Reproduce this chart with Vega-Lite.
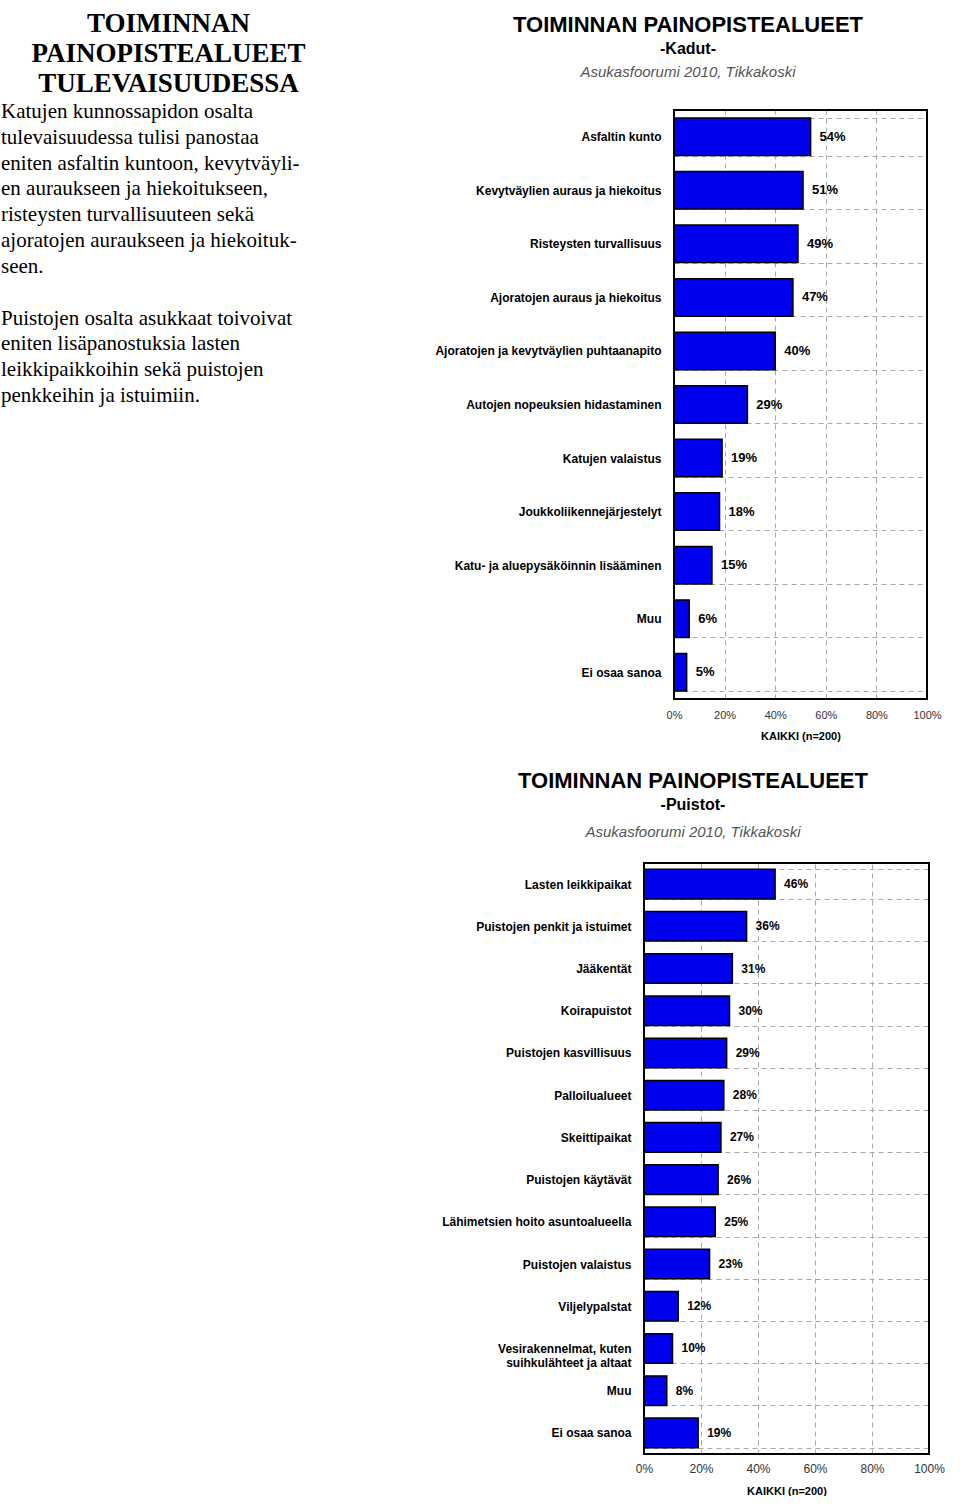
{
  "$schema": "https://vega.github.io/schema/vega-lite/v6.json",
  "padding": {"left": 1, "top": 9, "right": 0, "bottom": 0},
  "background": "white",
  "config": {
    "font": "Liberation Sans"
  },
  "datasets": {
    "teksti": [
      {"r": 1, "t": "Katujen kunnossapidon osalta"},
      {"r": 2, "t": "tulevaisuudessa tulisi panostaa"},
      {"r": 3, "t": "eniten asfaltin kuntoon, kevytväyli-"},
      {"r": 4, "t": "en auraukseen ja hiekoitukseen,"},
      {"r": 5, "t": "risteysten turvallisuuteen sekä"},
      {"r": 6, "t": "ajoratojen auraukseen ja hiekoituk-"},
      {"r": 7, "t": "seen."},
      {"r": 9, "t": "Puistojen osalta asukkaat toivoivat"},
      {"r": 10, "t": "eniten lisäpanostuksia lasten"},
      {"r": 11, "t": "leikkipaikkoihin sekä puistojen"},
      {"r": 12, "t": "penkkeihin ja istuimiin."}
    ],
    "kadut": [
      {"k": "Asfaltin kunto", "v": 0.54},
      {"k": "Kevytväylien auraus ja hiekoitus", "v": 0.51},
      {"k": "Risteysten turvallisuus", "v": 0.49},
      {"k": "Ajoratojen auraus ja hiekoitus", "v": 0.47},
      {"k": "Ajoratojen ja kevytväylien puhtaanapito", "v": 0.40},
      {"k": "Autojen nopeuksien hidastaminen", "v": 0.29},
      {"k": "Katujen valaistus", "v": 0.19},
      {"k": "Joukkoliikennejärjestelyt", "v": 0.18},
      {"k": "Katu- ja aluepysäköinnin lisääminen", "v": 0.15},
      {"k": "Muu", "v": 0.06},
      {"k": "Ei osaa sanoa", "v": 0.05}
    ],
    "puistot": [
      {"k": "Lasten leikkipaikat", "v": 0.46},
      {"k": "Puistojen penkit ja istuimet", "v": 0.36},
      {"k": "Jääkentät", "v": 0.31},
      {"k": "Koirapuistot", "v": 0.30},
      {"k": "Puistojen kasvillisuus", "v": 0.29},
      {"k": "Palloilualueet", "v": 0.28},
      {"k": "Skeittipaikat", "v": 0.27},
      {"k": "Puistojen käytävät", "v": 0.26},
      {"k": "Lähimetsien hoito asuntoalueella", "v": 0.25},
      {"k": "Puistojen valaistus", "v": 0.23},
      {"k": "Viljelypalstat", "v": 0.12},
      {"k": "Vesirakennelmat, kuten|suihkulähteet ja altaat", "v": 0.10},
      {"k": "Muu", "v": 0.08},
      {"k": "Ei osaa sanoa", "v": 0.19}
    ]
  },
  "spacing": 29,
  "vconcat": [
    {
      "spacing": 98,
      "hconcat": [
        {
          "title": {
            "text": ["TOIMINNAN", "PAINOPISTEALUEET", "TULEVAISUUDESSA"],
            "font": "Liberation Serif",
            "fontSize": 27,
            "fontWeight": "bold",
            "lineHeight": 30,
            "color": "black",
            "anchor": "middle",
            "frame": "group",
            "offset": 3
          },
          "width": 335,
          "height": 310,
          "view": {"stroke": null},
          "data": {"name": "teksti"},
          "mark": {"type": "text", "align": "left", "baseline": "middle", "dy": -11, "font": "Liberation Serif", "fontSize": 21, "color": "black"},
          "encoding": {
            "x": {"value": 0},
            "y": {"field": "r", "type": "ordinal", "scale": {"domain": [1, 2, 3, 4, 5, 6, 7, 8, 9, 10, 11, 12], "paddingInner": 0, "paddingOuter": 0}, "axis": null},
            "text": {"field": "t"}
          }
        },
        {
          "title": {
            "text": "TOIMINNAN PAINOPISTEALUEET",
            "subtitle": "-Kadut-",
            "fontSize": 22,
            "fontWeight": "bold",
            "color": "black",
            "subtitleFontSize": 16,
            "subtitleFontWeight": "bold",
            "subtitleColor": "black",
            "subtitlePadding": 4,
            "anchor": "middle",
            "offset": 7
          },
          "vconcat": [
            {
              "title": {"text": "Asukasfoorumi 2010, Tikkakoski", "fontSize": 15, "fontStyle": "italic", "fontWeight": "normal", "color": "#555555", "anchor": "middle", "frame": "bounds", "offset": 24},
              "width": 253,
              "height": 589,
              "view": {"stroke": null},
              "data": {"name": "kadut"},
              "encoding": {
                "y": {
                  "field": "k", "type": "nominal", "sort": null,
                  "scale": {"paddingInner": 0.3, "paddingOuter": 0.15},
                  "axis": {"title": null, "ticks": false, "domain": false, "grid": true, "tickBand": "extent", "gridDash": [5, 4], "gridColor": "#a8a8a8", "labelFontSize": 12, "labelFontWeight": "bold", "labelColor": "black", "labelPadding": 13, "labelLimit": 400}
                },
                "x": {
                  "field": "v", "type": "quantitative",
                  "scale": {"domain": [0, 1], "nice": false},
                  "axis": {"format": ".0%", "values": [0, 0.2, 0.4, 0.6, 0.8, 1], "title": "KAIKKI (n=200)", "grid": true, "gridDash": [5, 4], "gridColor": "#a8a8a8", "ticks": false, "domain": false, "labelFlush": false, "labelOverlap": false, "labelFontSize": 11, "labelColor": "#333333", "labelPadding": 10, "titleFontSize": 11, "titleFontWeight": "bold", "titleColor": "black", "titlePadding": 10}
                }
              },
              "layer": [
                {"mark": {"type": "bar", "color": "#0000f0", "stroke": "black", "strokeWidth": 1.5}},
                {"mark": {"type": "text", "align": "left", "baseline": "middle", "dx": 9, "fontSize": 13, "fontWeight": "bold", "color": "black"},
                 "encoding": {"text": {"field": "v", "type": "quantitative", "format": ".0%"}}},
                {"mark": {"type": "rect", "filled": false, "stroke": "black", "strokeWidth": 2},
                 "encoding": {"x": {"datum": 0}, "x2": {"datum": 1}, "y": null}}
              ]
            }
          ]
        }
      ]
    },
    {
      "spacing": 98,
      "hconcat": [
        {
          "width": 342,
          "height": 1,
          "view": {"stroke": null},
          "data": {"values": [{"a": 0}]},
          "mark": {"type": "point", "opacity": 0},
          "encoding": {}
        },
        {
          "title": {
            "text": "TOIMINNAN PAINOPISTEALUEET",
            "subtitle": "-Puistot-",
            "fontSize": 22,
            "fontWeight": "bold",
            "color": "black",
            "subtitleFontSize": 16,
            "subtitleFontWeight": "bold",
            "subtitleColor": "black",
            "subtitlePadding": 4,
            "anchor": "middle",
            "offset": 11
          },
          "vconcat": [
            {
              "title": {"text": "Asukasfoorumi 2010, Tikkakoski", "fontSize": 15, "fontStyle": "italic", "fontWeight": "normal", "color": "#555555", "anchor": "middle", "frame": "bounds", "offset": 17},
              "width": 285,
              "height": 591,
              "view": {"stroke": null},
              "data": {"name": "puistot"},
              "encoding": {
                "y": {
                  "field": "k", "type": "nominal", "sort": null,
                  "scale": {"paddingInner": 0.3, "paddingOuter": 0.15},
                  "axis": {"title": null, "ticks": false, "domain": false, "grid": true, "tickBand": "extent", "gridDash": [5, 4], "gridColor": "#a8a8a8", "labelFontSize": 12, "labelFontWeight": "bold", "labelColor": "black", "labelPadding": 13, "labelLimit": 400, "labelExpr": "split(datum.label, '|')", "labelLineHeight": 14}
                },
                "x": {
                  "field": "v", "type": "quantitative",
                  "scale": {"domain": [0, 1], "nice": false},
                  "axis": {"format": ".0%", "values": [0, 0.2, 0.4, 0.6, 0.8, 1], "title": "KAIKKI (n=200)", "grid": true, "gridDash": [5, 4], "gridColor": "#a8a8a8", "ticks": false, "domain": false, "labelFlush": false, "labelOverlap": false, "labelFontSize": 12, "labelColor": "#333333", "labelPadding": 9, "titleFontSize": 11, "titleFontWeight": "bold", "titleColor": "black", "titlePadding": 11}
                }
              },
              "layer": [
                {"mark": {"type": "bar", "color": "#0000f0", "stroke": "black", "strokeWidth": 1.5}},
                {"mark": {"type": "text", "align": "left", "baseline": "middle", "dx": 9, "fontSize": 12, "fontWeight": "bold", "color": "black"},
                 "encoding": {"text": {"field": "v", "type": "quantitative", "format": ".0%"}}},
                {"mark": {"type": "rect", "filled": false, "stroke": "black", "strokeWidth": 2},
                 "encoding": {"x": {"datum": 0}, "x2": {"datum": 1}, "y": null}}
              ]
            }
          ]
        }
      ]
    }
  ]
}
